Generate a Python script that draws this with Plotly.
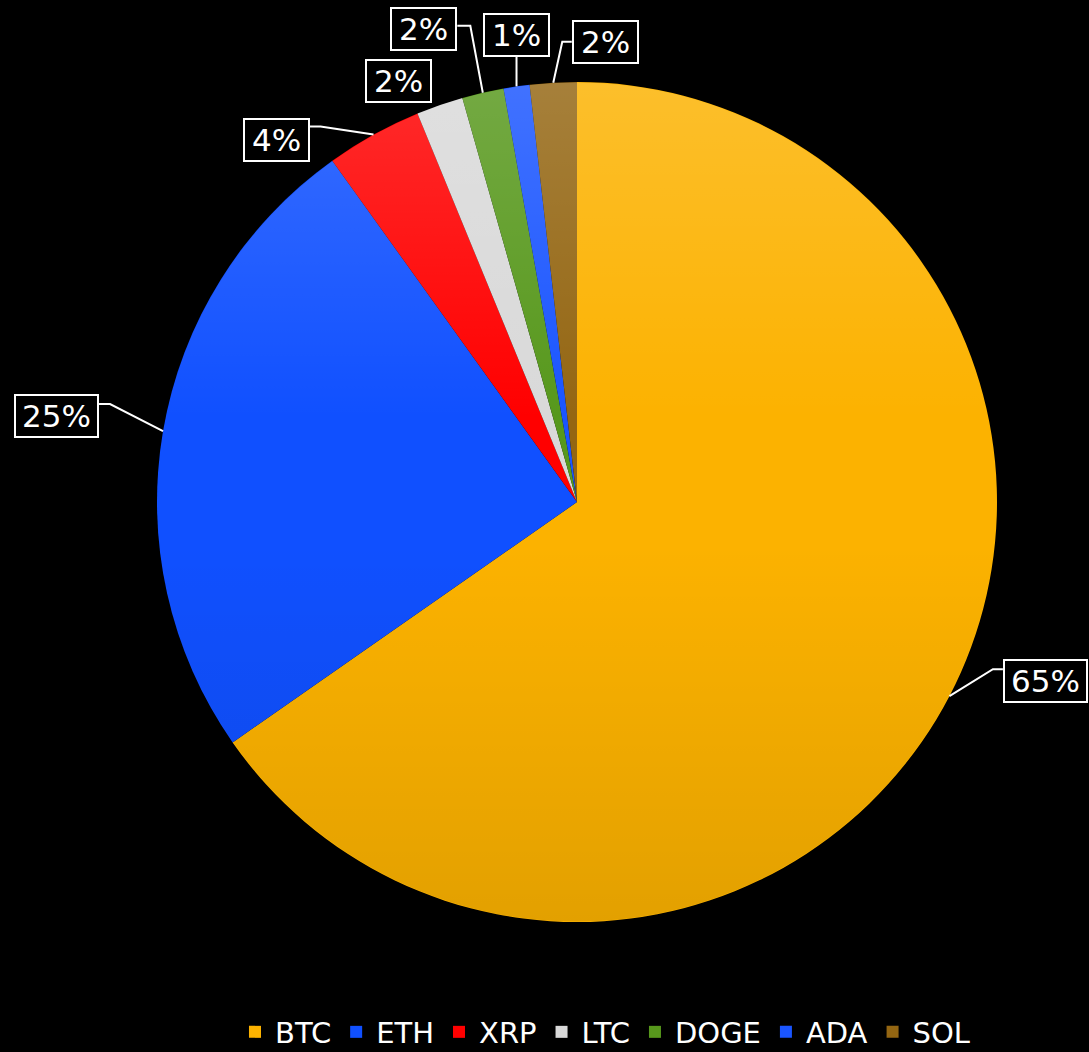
import base64
import math

import plotly.graph_objects as go

# Market share of the main crypto assets (percent)
assets = ["BTC", "ETH", "XRP", "LTC", "DOGE", "ADA", "SOL"]
shares = [65.3, 24.8, 3.7, 1.8, 1.6, 1.0, 1.8]
slice_colors = ["#FCB200", "#1050FF", "#FF0000", "#D9D9D9", "#57981C", "#1A55FF", "#946612"]

# Canvas and pie geometry (pixels)
W, H = 1089, 1052
CX, CY, R = 577, 502, 420

# Per-slice label placement: box centre offset from the slice's outer mid-point,
# plus the leader-line elbow/attach points (same frame). None = no leader line.
label_layout = [
    dict(box=(96, -15), leader=[(43.5, -27), (53.5, -27)]),
    dict(box=(-107, -15), leader=[(-53, -27), (-64, -27)]),
    dict(box=(-97.5, 5), leader=[(-53, -8), (-64, -8)]),
    dict(box=(-41.5, -24.5), leader=None),
    dict(box=(-59, -64), leader=[(-12.5, -67), (-25.5, -67)]),
    dict(box=(-0.5, -51.5), leader=[(0, -30)]),
    dict(box=(52, -40.5), leader=[(9, -41), (18.5, -41)]),
]


def px(x):
    return x / W


def py(y):
    return 1 - y / H


fig = go.Figure(
    go.Pie(
        labels=assets,
        values=shares,
        sort=False,
        direction="clockwise",
        rotation=0,
        marker=dict(colors=slice_colors, line=dict(width=0)),
        textinfo="none",
        hovertemplate="%{label}: %{percent}<extra></extra>",
        domain=dict(x=[px(CX - R), px(CX + R)], y=[py(CY + R), py(CY - R)]),
    )
)

# Percentage labels with boxed text and elbow leader lines
total = sum(shares)
cum = 0.0
annotations = []
shapes = []
for name, v, lay in zip(assets, shares, label_layout):
    mid = (cum + v / 2) / total * 2 * math.pi
    cum += v
    ex = CX + R * math.sin(mid)
    ey = CY - R * math.cos(mid)
    text = f"{round(v / total * 100)}%"
    bx, by = lay["box"]
    annotations.append(
        dict(
            x=px(ex + bx), y=py(ey + by), xref="paper", yref="paper",
            xanchor="center", yanchor="middle", showarrow=False,
            text=text, width=18 * len(text) + 23, height=36,
            font=dict(family="DejaVu Sans", size=31, color="white"),
            bgcolor="black", bordercolor="white", borderwidth=2, borderpad=2,
        )
    )
    if lay["leader"]:
        pts = [(ex, ey)] + [(ex + dx, ey + dy) for dx, dy in lay["leader"]]
        path = "M " + " L ".join(f"{px(x):.5f},{py(y):.5f}" for x, y in pts)
        shapes.append(
            dict(type="path", xref="paper", yref="paper", path=path,
                 line=dict(color="white", width=2), layer="above")
        )

# Soft vertical shading across the pie (lighter top, slightly darker bottom)
shade_svg = (
    '<svg xmlns="http://www.w3.org/2000/svg" width="840" height="840" viewBox="0 0 840 840">'
    '<defs><linearGradient id="g" x1="0" y1="0" x2="0" y2="1">'
    '<stop offset="0" stop-color="#ffffff" stop-opacity="0.17"/>'
    '<stop offset="0.4" stop-color="#ffffff" stop-opacity="0"/>'
    '<stop offset="0.55" stop-color="#000000" stop-opacity="0"/>'
    '<stop offset="1" stop-color="#000000" stop-opacity="0.1"/>'
    '</linearGradient></defs>'
    '<circle cx="420" cy="420" r="419.5" fill="url(#g)"/></svg>'
)
shade_src = "data:image/svg+xml;base64," + base64.b64encode(shade_svg.encode()).decode()

fig.update_layout(
    width=W,
    height=H,
    margin=dict(l=0, r=0, t=0, b=0, autoexpand=False),
    paper_bgcolor="black",
    plot_bgcolor="black",
    font=dict(family="DejaVu Sans", color="white"),
    showlegend=True,
    legend=dict(
        orientation="h", x=0.556, xanchor="center",
        yref="container", y=1 - 1032 / H, yanchor="middle",
        font=dict(family="DejaVu Sans", size=29, color="white"),
        bgcolor="rgba(0,0,0,0)", traceorder="normal",
    ),
    annotations=annotations,
    shapes=shapes,
    images=[
        dict(source=shade_src, xref="paper", yref="paper",
             x=px(CX - R), y=py(CY - R), sizex=2 * R / W, sizey=2 * R / H,
             xanchor="left", yanchor="top", sizing="stretch", layer="above")
    ],
)

fig.write_html("out.html")
